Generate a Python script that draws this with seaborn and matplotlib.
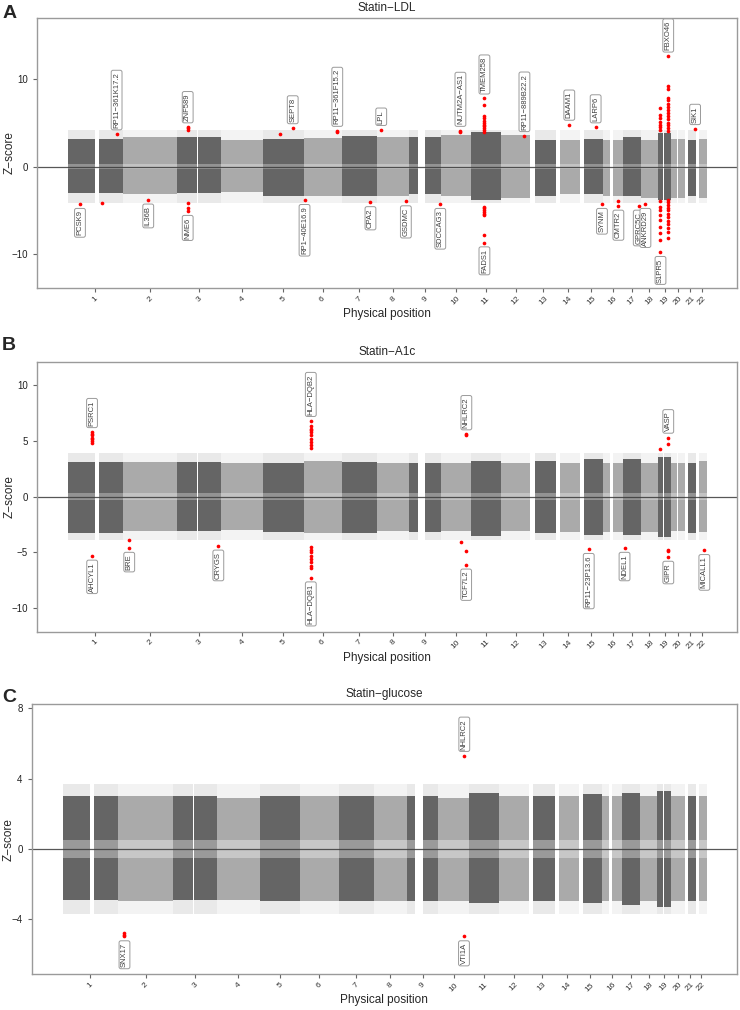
import numpy as np
import pandas as pd
import matplotlib
matplotlib.use("Agg")
import matplotlib.pyplot as plt
import seaborn as sns

# chromosome layout (Mb, hg19)
chroms = list(range(1, 23))
chrom_len = [249.3, 243.2, 198.0, 191.2, 180.9, 171.1, 159.1, 146.4, 141.2, 135.5,
             135.0, 133.9, 115.2, 107.3, 102.5, 90.4, 81.2, 78.1, 59.1, 63.0, 48.1, 51.3]
# stretches without SNPs (centromeres, acrocentric arms)
gap_chr = [1, 3, 9, 13, 14, 15, 16, 19, 20, 21, 22]
gap_from = [121.5, 90.5, 38.5, 0.0, 0.0, 0.0, 35.3, 24.5, 26.3, 0.0, 0.0]
gap_to = [142.5, 93.7, 70.9, 19.0, 19.0, 20.0, 46.4, 28.5, 30.0, 14.5, 16.5]

# extent of the dense point cloud per chromosome (Z)
ldl_hi = [3.2, 3.4, 3.4, 3.0, 3.2, 3.3, 3.5, 3.4, 3.4, 3.6, 3.9, 3.6, 3.0, 3.0, 3.2, 3.0, 3.4, 3.0, 3.8, 3.2, 3.0, 3.2]
ldl_lo = [-3.0, -3.2, -3.0, -2.9, -3.4, -3.4, -3.4, -3.4, -3.2, -3.4, -3.8, -3.6, -3.4, -3.2, -3.2, -3.4, -3.4, -3.6, -3.8, -3.6, -3.4, -3.6]
a1c_hi = [3.1, 3.1, 3.1, 3.0, 3.0, 3.2, 3.1, 3.0, 3.0, 3.0, 3.2, 3.0, 3.2, 3.0, 3.4, 3.0, 3.4, 3.0, 3.6, 3.0, 3.0, 3.2]
a1c_lo = [-3.3, -3.1, -3.1, -3.0, -3.2, -3.3, -3.3, -3.1, -3.2, -3.1, -3.5, -3.1, -3.3, -3.2, -3.4, -3.2, -3.4, -3.2, -3.6, -3.1, -3.3, -3.2]
glu_hi = [3.0, 3.0, 3.0, 2.9, 3.0, 3.0, 3.0, 3.0, 3.0, 2.9, 3.2, 3.0, 3.0, 3.0, 3.1, 3.0, 3.2, 3.0, 3.3, 3.0, 3.0, 3.0]
glu_lo = [-2.9, -3.0, -2.9, -2.9, -3.0, -3.0, -3.0, -3.0, -3.0, -3.0, -3.1, -3.0, -3.0, -3.0, -3.1, -3.0, -3.2, -3.0, -3.3, -3.0, -3.0, -3.0]

# significant loci (red)
ldl_loc_chr = [1, 1, 1, 2, 3, 5, 5, 6, 6, 7, 8, 8, 9, 10, 11, 12, 14, 15, 15, 16, 16, 17, 18, 19, 19, 21]
ldl_loc_pos = [55.5, 153.0, 220.6, 113.8, 48.3, 74.5, 132.1, 4.5, 152.0, 130.4, 19.8, 130.7, 139.3, 88.9,
               61.5, 106.7, 59.7, 71.1, 99.6, 67.5, 71.0, 72.4, 21.2, 11.0, 45.8, 44.8]
ldl_loc_z = [[-4.3], [-4.2], [3.7], [-3.8], [4.2, 4.4, 4.5, -4.2, -4.7, -5.1], [3.7], [4.4], [-3.85],
             [4.0, 4.1], [-4.1], [4.2], [-4.0], [-4.3], [4.0, 4.1],
             [7.8, 7.0, 5.8, 5.5, 5.2, 5.0, 4.8, 4.6, 4.4, 4.2, 4.0, -4.6, -4.8, -5.0, -5.2, -5.4, -5.6, -7.8, -8.7],
             [3.5], [4.8], [4.5], [-4.3], [-3.95], [-4.5], [-4.5], [-4.3],
             [6.7, 5.9, 5.5, 5.1, 4.8, 4.5, 4.2, -4.0, -4.6, -5.0, -5.5, -6.1, -6.9, -7.6, -8.4, -9.8],
             [12.6, 9.2, 8.9, 7.8, 7.6, 7.2, 6.8, 6.5, 6.1, 5.8, 5.4, 5.0, 4.7, 4.4, 4.1,
              -3.8, -4.1, -4.4, -4.8, -5.0, -5.4, -5.8, -6.2, -6.6, -7.0, -7.5, -8.2],
             [4.3]]
ldl_gene = ["PCSK9", "RP11\u2212361K17.2", "IL36B", "ZNF589", "NME6", "SEPT8", "RP1\u221240E16.9",
            "RP11\u2212361F15.2", "CPA2", "LPL", "GSDMC", "SDCCAG3", "NUTM2A\u2212AS1", "TMEM258", "FADS1",
            "RP11\u2212889B22.2", "DAAM1", "LARP6", "SYNM", "CMTR2", "GPRC5C", "ANKRD29", "S1PR5", "FBXO46", "SIK1"]
ldl_gene_chr = [1, 1, 2, 3, 3, 5, 6, 6, 7, 8, 8, 9, 10, 11, 11, 12, 14, 15, 15, 16, 17, 18, 19, 19, 21]
ldl_gene_pos = [55.5, 220.6, 113.8, 48.3, 48.3, 132.1, 4.5, 152.0, 130.4, 19.8, 130.7, 139.3, 88.9, 61.5, 61.5,
                106.7, 59.7, 71.1, 99.6, 71.0, 72.4, 21.2, 11.0, 45.8, 44.8]
ldl_gene_z = [-4.3, 3.7, -3.8, 4.5, -5.1, 4.4, -3.85, 4.1, -4.1, 4.2, -4.0, -4.3, 4.1, 7.8, -8.7,
              3.5, 4.8, 4.5, -4.3, -4.5, -4.5, -4.3, -9.8, 12.6, 4.3]

a1c_loc_chr = [1, 1, 2, 3, 6, 10, 10, 10, 15, 17, 19, 19, 19, 22]
a1c_loc_pos = [109.8, 110.5, 28.2, 186.3, 32.7, 93.6, 115.6, 114.7, 40.0, 8.3, 11.0, 46.0, 46.2, 38.3]
a1c_loc_z = [[5.8, 5.6, 5.5, 5.3, 5.2, 5.0, 4.8], [-5.3], [-3.9, -4.6], [-4.4],
             [6.8, 6.3, 6.1, 6.0, 5.8, 5.5, 5.2, 4.9, 4.6, 4.35,
              -4.5, -4.8, -5.0, -5.3, -5.6, -5.9, -6.2, -6.4, -7.25],
             [-4.1], [5.5, 5.6], [-4.9, -6.1], [-4.7], [-4.6], [4.3], [5.3, 4.7], [-4.8, -4.9, -5.4], [-4.8]]
a1c_gene = ["PSRC1", "AHCYL1", "BRE", "CRYGS", "HLA\u2212DQB2", "HLA\u2212DQB1", "NHLRC2", "TCF7L2",
            "RP11\u221223P13.6", "NDEL1", "VASP", "GIPR", "MICALL1"]
a1c_gene_chr = [1, 1, 2, 3, 6, 6, 10, 10, 15, 17, 19, 19, 22]
a1c_gene_pos = [109.8, 110.5, 28.2, 186.3, 32.7, 32.7, 115.6, 114.7, 40.0, 8.3, 46.0, 46.2, 38.3]
a1c_gene_z = [5.8, -5.3, -4.6, -4.4, 6.8, -7.25, 5.6, -6.1, -4.7, -4.6, 5.3, -5.4, -4.8]

glu_loc_chr = [2, 10, 10]
glu_loc_pos = [27.6, 115.6, 114.2]
glu_loc_z = [[-4.8, -4.9, -5.0], [5.3], [-5.0]]
glu_gene = ["SNX17", "NHLRC2", "VTI1A"]
glu_gene_chr = [2, 10, 10]
glu_gene_pos = [27.6, 115.6, 114.2]
glu_gene_z = [-5.0, 5.3, -5.0]

DARK = "#656565"
LIGHT = "#aaaaaa"

sns.set_style("ticks")
plt.rcParams["font.family"] = ["Liberation Sans", "DejaVu Sans"]

offset = dict(zip(chroms, np.concatenate([[0.0], np.cumsum(chrom_len)[:-1]])))
centers = [offset[c] + l / 2 for c, l in zip(chroms, chrom_len)]

rows = []
for c, l in zip(chroms, chrom_len):
    a = 0.0
    for g, f, t in zip(gap_chr, gap_from, gap_to):
        if g == c:
            if f > a:
                rows.append((c, a, f))
            a = t
    rows.append((c, a, l))
seg = pd.DataFrame(rows, columns=["chrom", "start", "end"])
seg["x0"] = seg["start"] + seg["chrom"].map(offset)
seg["w"] = seg["end"] - seg["start"]
seg["color"] = [DARK if c % 2 else LIGHT for c in seg["chrom"]]


def panel(ax, hi, lo, sparse, gap, gap_alpha, loc_chr, loc_pos, loc_z,
          gene, gene_chr, gene_pos, gene_z, ylim, yticks, title):
    s = seg.copy()
    s["hi"] = s["chrom"].map(dict(zip(chroms, hi)))
    s["lo"] = s["chrom"].map(dict(zip(chroms, lo)))
    # sparse outskirts, dense core, thinner band round zero
    ax.bar(s["x0"], 2 * sparse, bottom=-sparse, width=s["w"], align="edge",
           color=s["color"], alpha=0.14, lw=0)
    ax.bar(s["x0"], s["hi"] - s["lo"], bottom=s["lo"], width=s["w"], align="edge",
           color=s["color"], lw=0)
    ax.bar(s["x0"], 2 * gap, bottom=-gap, width=s["w"], align="edge",
           color="white", alpha=gap_alpha, lw=0)
    ax.axhline(0, color="#3a3a3a", lw=0.9, alpha=0.85)

    hits = pd.DataFrame({"chrom": loc_chr, "pos": loc_pos, "z": loc_z}).explode("z")
    hits["z"] = hits["z"].astype(float)
    hits["x"] = hits["pos"] + hits["chrom"].map(offset)
    sns.scatterplot(data=hits, x="x", y="z", color="red", s=7, linewidth=0,
                    ax=ax, legend=False, zorder=3)

    for g, c, p, z in zip(gene, gene_chr, gene_pos, gene_z):
        up = z > 0
        ax.annotate(g, xy=(p + offset[c], z), xytext=(0, 4.5 if up else -4.5),
                    textcoords="offset points", rotation=90, ha="center",
                    va="bottom" if up else "top", fontsize=5.5, color="#404040",
                    bbox=dict(boxstyle="round,pad=0.25", fc="white", ec="#9a9a9a", lw=0.7),
                    zorder=4)

    ax.set_xlim(-138, 3015)
    ax.set_ylim(*ylim)
    ax.set_yticks(yticks)
    ax.set_xticks(centers)
    ax.set_xticklabels([str(c) for c in chroms], rotation=45, ha="center")
    ax.tick_params(axis="x", labelsize=6, length=3, color="#666666", labelcolor="#333333", pad=2)
    ax.tick_params(axis="y", labelsize=7, length=3, color="#666666", labelcolor="#222222")
    for sp in ax.spines.values():
        sp.set_visible(True)
        sp.set_color("#9a9a9a")
        sp.set_linewidth(1.0)
    ax.set_title(title, fontsize=8.5, pad=5)
    ax.set_xlabel("Physical position", fontsize=8.5, labelpad=1)
    ax.set_ylabel("Z\u2212score", fontsize=8.5)


fig = plt.figure(figsize=(7.4, 10.1), dpi=100)
axA = fig.add_axes([0.05, 0.7149, 0.9459, 0.2673])
axB = fig.add_axes([0.05, 0.3746, 0.9459, 0.2673])
axC = fig.add_axes([0.0428, 0.0353, 0.9531, 0.2673])

panel(axA, ldl_hi, ldl_lo, 4.2, 0.3, 0.3, ldl_loc_chr, ldl_loc_pos, ldl_loc_z,
      ldl_gene, ldl_gene_chr, ldl_gene_pos, ldl_gene_z, (-13.9, 17.0), [-10, 0, 10], "Statin\u2212LDL")
panel(axB, a1c_hi, a1c_lo, 3.9, 0.3, 0.3, a1c_loc_chr, a1c_loc_pos, a1c_loc_z,
      a1c_gene, a1c_gene_chr, a1c_gene_pos, a1c_gene_z, (-12.1, 12.1), [-10, -5, 0, 5, 10], "Statin\u2212A1c")
panel(axC, glu_hi, glu_lo, 3.7, 0.5, 0.35, glu_loc_chr, glu_loc_pos, glu_loc_z,
      glu_gene, glu_gene_chr, glu_gene_pos, glu_gene_z, (-7.16, 8.23), [-4, 0, 4, 8], "Statin\u2212glucose")

axA.yaxis.set_label_coords(-0.031, 0.5)
axB.yaxis.set_label_coords(-0.031, 0.5)
axC.yaxis.set_label_coords(-0.024, 0.5)

for y, letter in [(0.9819, "A"), (0.6535, "B"), (0.3053, "C")]:
    fig.text(0.003, y, letter, fontsize=14, fontweight="bold", va="baseline", ha="left")

fig.savefig("out.png", dpi=100)
